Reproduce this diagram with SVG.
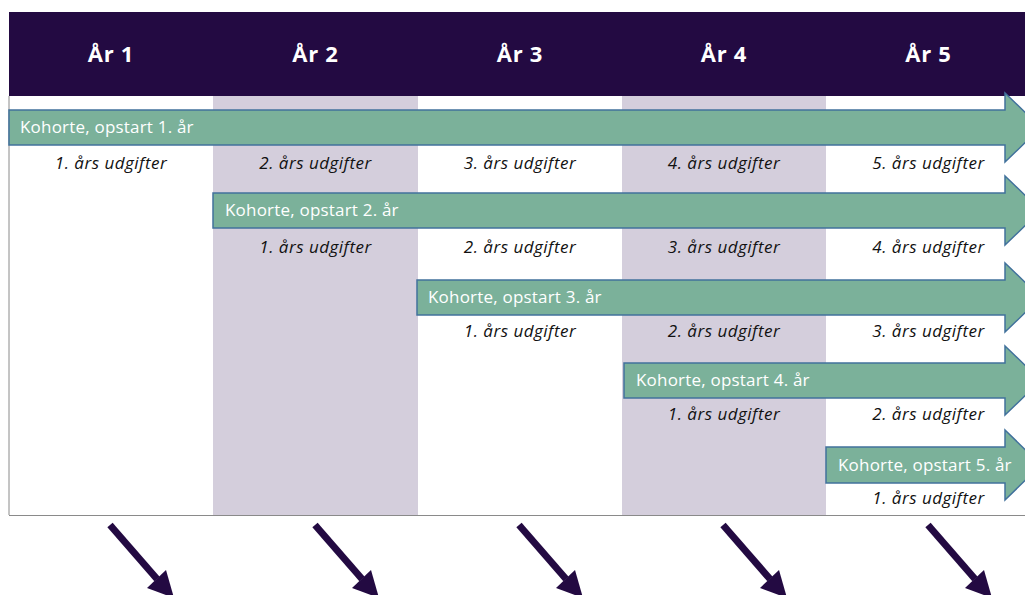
<svg xmlns="http://www.w3.org/2000/svg" width="1025" height="595" viewBox="0 0 1025 595">
<style>
.hdr{fill:#230A42}
.lav{fill:#D4CEDC}
.ht{font-family:"Open Sans","Liberation Sans",sans-serif;font-weight:bold;font-size:22px;letter-spacing:0.7px;fill:#fff;text-anchor:middle}
.coh{fill:#7BB19A;stroke:#41719C;stroke-width:1.5}
.ct{font-family:"Open Sans","Liberation Sans",sans-serif;font-size:17px;letter-spacing:0.2px;fill:#fff}
.ut{font-family:"Open Sans","Liberation Sans",sans-serif;font-style:italic;font-size:17px;letter-spacing:0.5px;fill:#111;text-anchor:middle}
.da{stroke:#230A42;stroke-width:7;fill:none}
.dh{fill:#230A42}
</style>
<rect width="1025" height="595" fill="#fff"/>
<g id="columns">
<rect class="lav" x="213" y="96" width="205" height="419"/>
<rect class="lav" x="622" y="96" width="204" height="419"/>
<line x1="9" y1="96" x2="9" y2="515" stroke="#8a8a8a" stroke-width="1"/>
<line x1="9" y1="515.5" x2="1025" y2="515.5" stroke="#8a8a8a" stroke-width="1"/>
</g>
<g id="header">
<rect class="hdr" x="9" y="12" width="1016" height="84"/>
<text class="ht" x="111" y="62">År 1</text>
<text class="ht" x="315.5" y="62">År 2</text>
<text class="ht" x="520" y="62">År 3</text>
<text class="ht" x="724" y="62">År 4</text>
<text class="ht" x="928.5" y="62">År 5</text>
</g>
<g id="cohort1">
<polygon class="coh" points="9,110 1005,110 1005,93 1041,127.5 1005,162 1005,145 9,145"/>
<text class="ct" x="20" y="133">Kohorte, opstart 1. år</text>
</g>
<g id="cohort2">
<polygon class="coh" points="213,193 1005,193 1005,176 1041,210.5 1005,245 1005,228 213,228"/>
<text class="ct" x="225" y="216">Kohorte, opstart 2. år</text>
</g>
<g id="cohort3">
<polygon class="coh" points="417,280 1005,280 1005,263 1041,297.5 1005,332 1005,315 417,315"/>
<text class="ct" x="428" y="303">Kohorte, opstart 3. år</text>
</g>
<g id="cohort4">
<polygon class="coh" points="624,363 1005,363 1005,346 1041,380.5 1005,415 1005,398 624,398"/>
<text class="ct" x="636" y="386">Kohorte, opstart 4. år</text>
</g>
<g id="cohort5">
<polygon class="coh" points="826,447 1005,447 1005,430 1041,465 1005,500 1005,483 826,483"/>
<text class="ct" x="838" y="471">Kohorte, opstart 5. år</text>
</g>
<g id="expenses">
<text class="ut" x="111" y="169">1. års udgifter</text>
<text class="ut" x="315.5" y="169">2. års udgifter</text>
<text class="ut" x="520" y="169">3. års udgifter</text>
<text class="ut" x="724" y="169">4. års udgifter</text>
<text class="ut" x="928.5" y="169">5. års udgifter</text>
<text class="ut" x="315.5" y="253">1. års udgifter</text>
<text class="ut" x="520" y="253">2. års udgifter</text>
<text class="ut" x="724" y="253">3. års udgifter</text>
<text class="ut" x="928.5" y="253">4. års udgifter</text>
<text class="ut" x="520" y="337">1. års udgifter</text>
<text class="ut" x="724" y="337">2. års udgifter</text>
<text class="ut" x="928.5" y="337">3. års udgifter</text>
<text class="ut" x="724" y="420">1. års udgifter</text>
<text class="ut" x="928.5" y="420">2. års udgifter</text>
<text class="ut" x="928.5" y="504">1. års udgifter</text>
</g>
<g id="connectors">
<g transform="translate(0,0)">
<line class="da" x1="110" y1="525" x2="157" y2="579"/>
<polygon class="dh" points="147,588 166,570 174,598"/>
</g>
<g transform="translate(205,0)">
<line class="da" x1="110" y1="525" x2="157" y2="579"/>
<polygon class="dh" points="147,588 166,570 174,598"/>
</g>
<g transform="translate(409,0)">
<line class="da" x1="110" y1="525" x2="157" y2="579"/>
<polygon class="dh" points="147,588 166,570 174,598"/>
</g>
<g transform="translate(613,0)">
<line class="da" x1="110" y1="525" x2="157" y2="579"/>
<polygon class="dh" points="147,588 166,570 174,598"/>
</g>
<g transform="translate(818,0)">
<line class="da" x1="110" y1="525" x2="157" y2="579"/>
<polygon class="dh" points="147,588 166,570 174,598"/>
</g>
</g>
</svg>
